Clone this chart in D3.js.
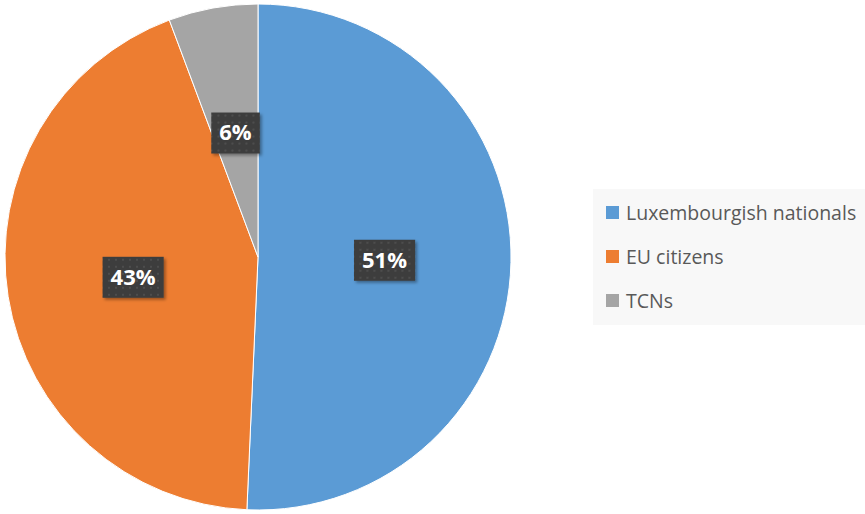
<!DOCTYPE html>
<html>
<head>
<meta charset="utf-8">
<script src="https://cdn.jsdelivr.net/npm/d3@7"></script>
<style>
  body { margin: 0; background: #fff; }
  svg { display: block; }
</style>
</head>
<body>
<div id="chart"></div>
<script>
var WIDTH = 865;
var HEIGHT = 514;

var categories = ["Luxembourgish nationals", "EU citizens", "TCNs"];
var values = [50.7, 43.6, 5.7];
var labels = ["51%", "43%", "6%"];
var COLORS = ["#5b9bd5", "#ed7d31", "#a5a5a5"];

var CX = 258, CY = 257, R = 253;

var svg = d3.select("#chart").append("svg")
  .attr("width", WIDTH)
  .attr("height", HEIGHT);

var defs = svg.append("defs");

// dotted dark label fill
var pat = defs.append("pattern")
  .attr("id", "dots")
  .attr("width", 7)
  .attr("height", 7)
  .attr("patternUnits", "userSpaceOnUse");
pat.append("rect").attr("width", 7).attr("height", 7).attr("fill", "#3d3d3d");
pat.append("rect").attr("x", 3).attr("y", 3).attr("width", 2).attr("height", 2).attr("fill", "#4e4e4e");

var shadow = defs.append("filter")
  .attr("id", "shadow")
  .attr("x", "-20%").attr("y", "-20%")
  .attr("width", "150%").attr("height", "150%");
shadow.append("feDropShadow")
  .attr("dx", 2).attr("dy", 2)
  .attr("stdDeviation", 1.5)
  .attr("flood-color", "#000")
  .attr("flood-opacity", 0.35);

var pie = d3.pie().sort(null).value(d => d);
var arcs = pie(values);
var arc = d3.arc().innerRadius(0).outerRadius(R);

var g = svg.append("g").attr("transform", "translate(" + CX + "," + CY + ")");

g.selectAll("path")
  .data(arcs)
  .enter()
  .append("path")
  .attr("d", arc)
  .attr("fill", (d, i) => COLORS[i])
  .attr("stroke", "#fff")
  .attr("stroke-width", 1);

var lab = g.selectAll("g.lab")
  .data(arcs)
  .enter()
  .append("g")
  .attr("class", "lab")
  .attr("transform", d => "translate(" + arc.centroid(d) + ")");

lab.append("text")
  .attr("text-anchor", "middle")
  .attr("dy", "0.36em")
  .style("font-family", "'Open Sans', sans-serif")
  .style("font-weight", "bold")
  .style("font-size", "22px")
  .attr("fill", "#fff")
  .text((d, i) => labels[i]);

lab.each(function() {
  var t = d3.select(this).select("text");
  var b = t.node().getBBox();
  var padX = 8;
  d3.select(this).insert("rect", "text")
    .attr("x", b.x - padX)
    .attr("y", -20)
    .attr("width", b.width + padX * 2)
    .attr("height", 41)
    .attr("fill", "url(#dots)")
    .attr("filter", "url(#shadow)");
});

// legend
var legend = svg.append("g");
legend.append("rect")
  .attr("x", 593)
  .attr("y", 189)
  .attr("width", 272)
  .attr("height", 136)
  .attr("fill", "#f8f8f8");

var item = legend.selectAll("g.item")
  .data(categories)
  .enter()
  .append("g")
  .attr("class", "item")
  .attr("transform", (d, i) => "translate(606," + (213 + i * 44) + ")");

item.append("rect")
  .attr("x", 0)
  .attr("y", -7)
  .attr("width", 13)
  .attr("height", 13)
  .attr("fill", (d, i) => COLORS[i]);

item.append("text")
  .attr("x", 20)
  .attr("dy", "0.35em")
  .style("font-family", "'Open Sans', sans-serif")
  .style("font-size", "19.5px")
  .attr("fill", "#595959")
  .text(d => d);
</script>
</body>
</html>
